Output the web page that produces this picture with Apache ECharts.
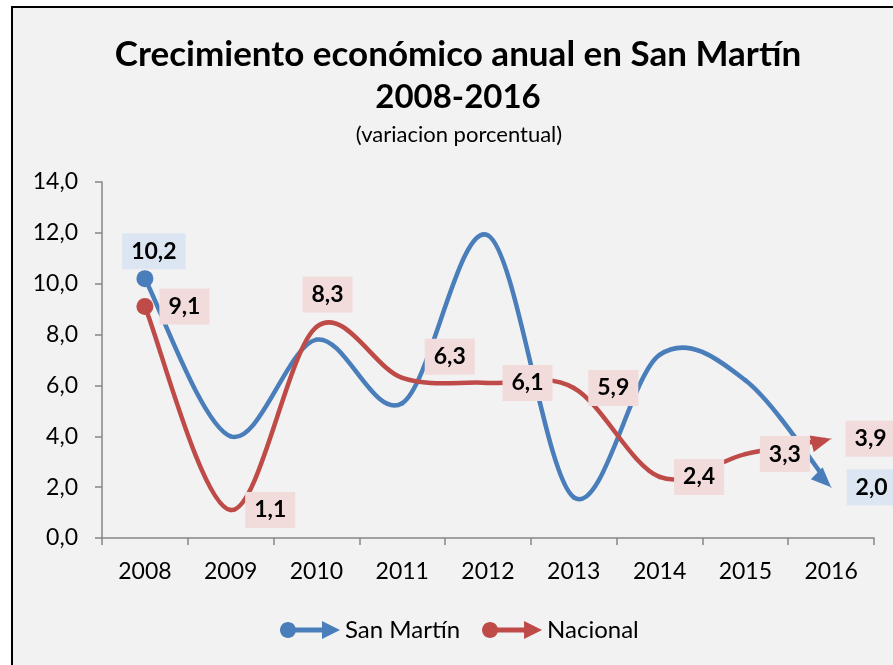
<!DOCTYPE html>
<html>
<head>
<meta charset="utf-8">
<script src="https://cdn.jsdelivr.net/npm/echarts@6/dist/echarts.min.js"></script>
<style>
html,body{margin:0;padding:0;background:#fff;}
#c{width:893px;height:665px;}
</style>
</head>
<body>
<div id="c"></div>
<script>
const years = ['2008','2009','2010','2011','2012','2013','2014','2015','2016'];
const sanMartin = [10.2, 4.0, 7.8, 5.3, 11.9, 1.6, 7.2, 6.2, 2.0];
const nacional = [9.1, 1.1, 8.3, 6.3, 6.1, 5.9, 2.4, 3.3, 3.9];
const yTicks = [0, 2, 4, 6, 8, 10, 12, 14];
const titleLine1 = 'Crecimiento económico anual en San Martín';
const titleLine2 = '2008-2016';
const subtitle = '(variacion porcentual)';

const BLUE = '#4a7ebb', RED = '#be4b48';
const FONT = 'Lato';
const fmt = v => Number(v).toFixed(1).replace('.', ',');

function labelCfg(bg, pos, extra) {
  return Object.assign({
    show: true, position: pos, distance: 14,
    formatter: p => fmt(p.value),
    fontFamily: FONT, fontWeight: 'bold', fontSize: 23, color: '#000',
    backgroundColor: bg, padding: [7, 9, 6, 9]
  }, extra || {});
}
const BLUE_BG = '#dce6f2', RED_BG = '#f2dcdb';

const blueData = sanMartin.map((v, i) => {
  const d = { value: v, label: { show: false } };
  if (i === 0) {
    d.symbol = 'circle'; d.symbolSize = 17;
    d.label = labelCfg(BLUE_BG, 'top', { distance: 1, offset: [9, 0] });
  }
  if (i === sanMartin.length - 1) {
    d.label = labelCfg(BLUE_BG, 'right', { distance: 15 });
  }
  return d;
});
const redData = nacional.map((v, i) => {
  const d = { value: v, label: labelCfg(RED_BG, 'right', { distance: 14 }) };
  if (i === 0) { d.symbol = 'circle'; d.symbolSize = 17; d.label.distance = 6; }
  if (i === 2) { d.label = labelCfg(RED_BG, 'top', { distance: 14, offset: [11, 0] }); }
  if (i === 3) { d.label.distance = 22; d.label.offset = [0, -21]; }
  return d;
});

// Smooth curve (Catmull-Rom style, like the spreadsheet's smoothed line) drawn from data via api.coord
function curveSeries(name, values, color, arrowAngleDeg, z) {
  const n = values.length;
  const lerp = (a, b, t) => [a[0] + (b[0] - a[0]) * t, a[1] + (b[1] - a[1]) * t];
  return {
    name: name, type: 'custom', silent: true, z: z,
    data: values.map((v, i) => [i, v]),
    renderItem: function (params, api) {
      const i = params.dataIndex;
      const P = k => { const c = Math.max(0, Math.min(n - 1, k)); return api.coord([c, values[c]]); };
      if (i === n - 1) {
        const tip = P(n - 1);
        const a = arrowAngleDeg * Math.PI / 180;
        const dx = Math.cos(a), dy = Math.sin(a);
        const L = 20, W = 17;
        const bx = tip[0] - dx * L, by = tip[1] - dy * L;
        return {
          type: 'polygon',
          shape: { points: [tip, [bx - dy * W / 2, by + dx * W / 2], [bx + dy * W / 2, by - dx * W / 2]] },
          style: { fill: color }
        };
      }
      const p0 = P(i - 1), p1 = P(i), p2 = P(i + 1), p3 = P(i + 2);
      let c1 = [p1[0] + (p2[0] - p0[0]) / 6, p1[1] + (p2[1] - p0[1]) / 6];
      let c2 = [p2[0] - (p3[0] - p1[0]) / 6, p2[1] - (p3[1] - p1[1]) / 6];
      let e = p2;
      if (i === n - 2) {
        const t = 0.88;
        const q1 = lerp(p1, c1, t), r = lerp(c1, c2, t), s = lerp(c2, p2, t);
        const q2 = lerp(q1, r, t), r2 = lerp(r, s, t), q3 = lerp(q2, r2, t);
        c1 = q1; c2 = q2; e = q3;
      }
      return {
        type: 'bezierCurve',
        shape: { x1: p1[0], y1: p1[1], cpx1: c1[0], cpy1: c1[1], cpx2: c2[0], cpy2: c2[1], x2: e[0], y2: e[1] },
        style: { stroke: color, lineWidth: 4.5, fill: null, lineCap: 'round' }
      };
    }
  };
}

const legendIcon = 'path://M0,11 C0,6.6 3.6,3 8,3 C12.4,3 16,6.6 16,11 C16,15.4 12.4,19 8,19 C3.6,19 0,15.4 0,11 Z M14,8.6 L42,8.6 L42,2 L60,11 L42,20 L42,13.4 L14,13.4 Z';

const chart = echarts.init(document.getElementById('c'), null, { renderer: 'canvas' });
chart.setOption({
  animation: false,
  backgroundColor: 'transparent',
  graphic: [
    { type: 'rect', z: -10, silent: true,
      shape: { x: 12, y: 7, width: 1000, height: 1000 },
      style: { fill: '#f2f2f2', stroke: '#000', lineWidth: 2 } },
    { type: 'text', silent: true, x: 458, y: 55,
      style: { text: titleLine1, align: 'center', verticalAlign: 'middle',
        fontFamily: FONT, fontWeight: 'bold', fontSize: 35, fill: '#000' } },
    { type: 'text', silent: true, x: 458, y: 97,
      style: { text: titleLine2, align: 'center', verticalAlign: 'middle',
        fontFamily: FONT, fontWeight: 'bold', fontSize: 33, fill: '#000' } },
    { type: 'text', silent: true, x: 459, y: 135,
      style: { text: subtitle, align: 'center', verticalAlign: 'middle',
        fontFamily: FONT, fontSize: 22, fill: '#000' } }
  ],
  grid: { left: 102, right: 19, top: 182, bottom: 127, containLabel: false },
  legend: {
    data: ['San Martín', 'Nacional'],
    left: 275, top: 613,
    itemWidth: 60, itemHeight: 22, itemGap: 22,
    icon: legendIcon,
    textStyle: { fontFamily: FONT, fontSize: 24, color: '#000' }
  },
  xAxis: {
    type: 'category', data: years, boundaryGap: true,
    axisLine: { lineStyle: { color: '#868686', width: 1.5 } },
    axisTick: { show: true, length: 7, lineStyle: { color: '#868686', width: 1.5 } },
    axisLabel: { fontFamily: FONT, fontSize: 23, color: '#000', margin: 22 }
  },
  yAxis: {
    type: 'value', min: yTicks[0], max: yTicks[yTicks.length - 1], interval: 2,
    axisLine: { show: true, lineStyle: { color: '#868686', width: 1.5 } },
    axisTick: { show: true, length: 7, lineStyle: { color: '#868686', width: 1.5 } },
    splitLine: { show: false },
    axisLabel: { fontFamily: FONT, fontSize: 23, color: '#000', margin: 24, formatter: v => fmt(v) }
  },
  series: [
    curveSeries('curveSM', sanMartin, BLUE, 44, 2),
    curveSeries('curveNac', nacional, RED, -14, 3),
    { name: 'San Martín', type: 'line', data: blueData,
      symbol: 'circle', symbolSize: 1, showSymbol: true,
      lineStyle: { width: 0 }, itemStyle: { color: BLUE }, z: 5 },
    { name: 'Nacional', type: 'line', data: redData,
      symbol: 'circle', symbolSize: 1, showSymbol: true,
      lineStyle: { width: 0 }, itemStyle: { color: RED }, z: 6 }
  ]
});
</script>
</body>
</html>
